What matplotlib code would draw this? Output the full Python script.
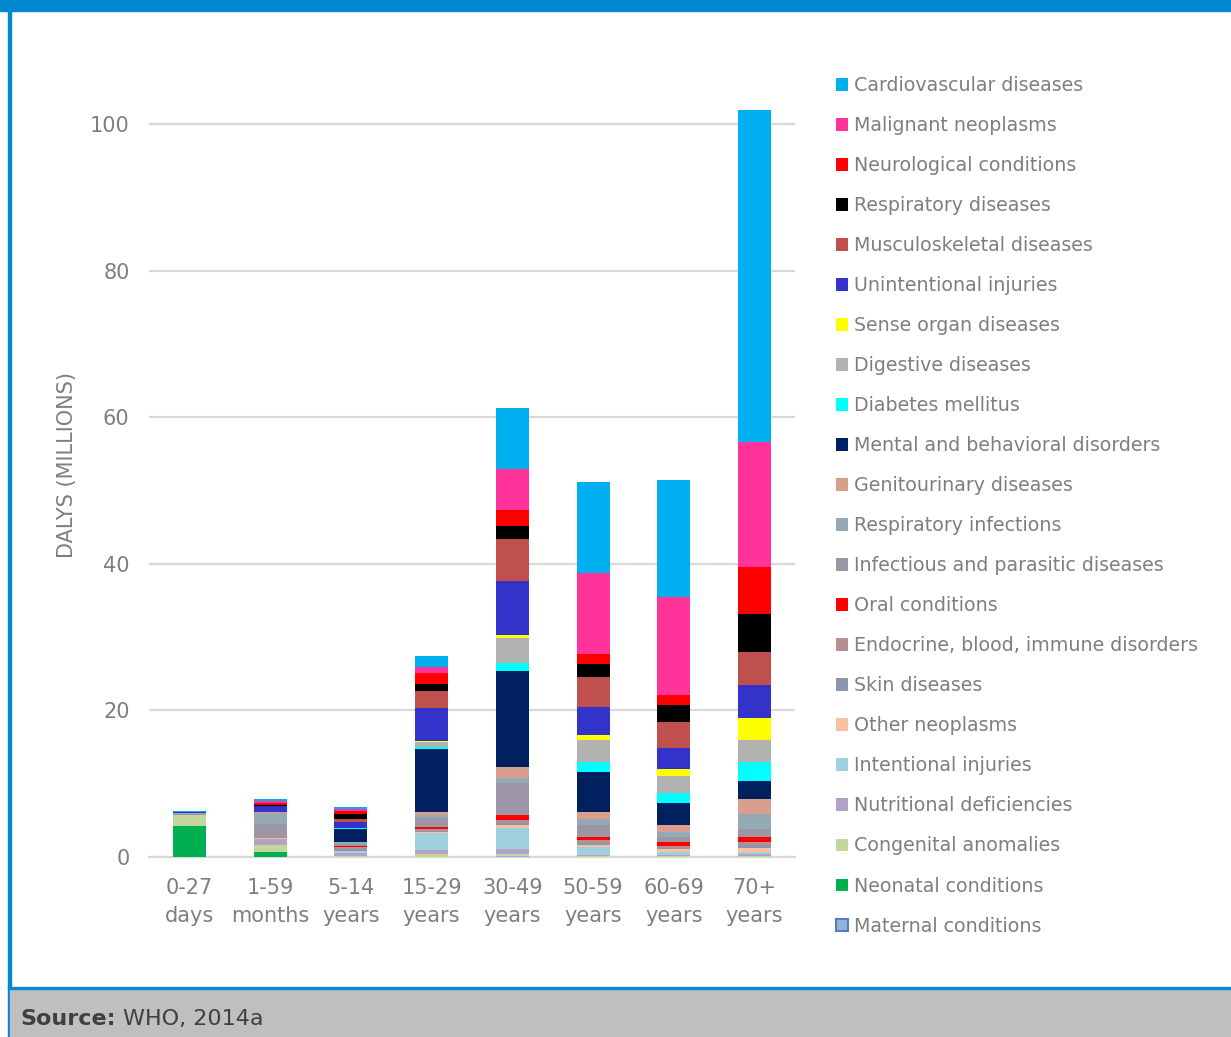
import matplotlib
matplotlib.use("Agg")
import matplotlib.pyplot as plt
from matplotlib.patches import Rectangle, Patch
import numpy as np

plt.rcParams['font.family'] = ['DejaVu Sans']

age_groups = ["0-27\ndays", "1-59\nmonths", "5-14\nyears", "15-29\nyears",
              "30-49\nyears", "50-59\nyears", "60-69\nyears", "70+\nyears"]

# Stacking order: bottom -> top (legend lists top -> bottom)
causes = ["Maternal conditions", "Neonatal conditions", "Congenital anomalies",
          "Nutritional deficiencies", "Intentional injuries", "Other neoplasms",
          "Skin diseases", "Endocrine, blood, immune disorders", "Oral conditions",
          "Infectious and parasitic diseases", "Respiratory infections",
          "Genitourinary diseases", "Mental and behavioral disorders",
          "Diabetes mellitus", "Digestive diseases", "Sense organ diseases",
          "Unintentional injuries", "Musculoskeletal diseases",
          "Respiratory diseases", "Neurological conditions",
          "Malignant neoplasms", "Cardiovascular diseases"]

# values in millions of DALYs, per age group (same order as age_groups)
maternal      = [0.0, 0.0, 0.0, 0.05, 0.1, 0.03, 0.02, 0.02]
neonatal      = [4.2, 0.7, 0.0, 0.0, 0.0, 0.0, 0.0, 0.0]
congenital    = [1.5, 1.0, 0.18, 0.35, 0.3, 0.1, 0.05, 0.05]
nutritional   = [0.0, 0.75, 0.35, 0.6, 0.7, 0.15, 0.15, 0.3]
intentional   = [0.0, 0.05, 0.3, 2.3, 2.9, 1.1, 0.5, 0.3]
other_neo     = [0.0, 0.1, 0.05, 0.1, 0.3, 0.25, 0.35, 0.55]
skin          = [0.0, 0.15, 0.2, 0.2, 0.35, 0.3, 0.2, 0.35]
endocrine     = [0.0, 0.3, 0.25, 0.2, 0.4, 0.35, 0.28, 0.5]
oral          = [0.0, 0.0, 0.18, 0.3, 0.65, 0.47, 0.45, 0.7]
infectious    = [0.18, 1.45, 0.3, 1.2, 4.4, 1.63, 0.77, 1.1]
resp_inf      = [0.18, 1.5, 0.3, 0.4, 0.7, 0.8, 0.64, 2.0]
genito        = [0.0, 0.15, 0.0, 0.4, 1.5, 0.9, 0.96, 2.0]
mental        = [0.0, 0.0, 1.77, 8.7, 13.1, 5.5, 3.0, 2.45]
diabetes      = [0.0, 0.0, 0.03, 0.15, 1.0, 1.4, 1.3, 2.7]
digestive     = [0.0, 0.0, 0.08, 0.75, 3.5, 3.0, 2.4, 2.9]
sense         = [0.0, 0.0, 0.03, 0.1, 0.4, 0.6, 0.9, 3.1]
unintentional = [0.1, 0.8, 0.8, 4.5, 7.4, 3.9, 2.9, 4.4]
musculo       = [0.0, 0.0, 0.4, 2.3, 5.7, 4.1, 3.5, 4.5]
respiratory   = [0.0, 0.14, 0.68, 1.0, 1.8, 1.8, 2.3, 5.2]
neuro         = [0.0, 0.27, 0.4, 1.5, 2.1, 1.3, 1.4, 6.5]
malignant     = [0.0, 0.27, 0.27, 0.8, 5.6, 11.0, 13.4, 17.0]
cardio        = [0.1, 0.27, 0.27, 1.5, 8.35, 12.5, 15.9, 45.3]

series = [maternal, neonatal, congenital, nutritional, intentional, other_neo,
          skin, endocrine, oral, infectious, resp_inf, genito, mental, diabetes,
          digestive, sense, unintentional, musculo, respiratory, neuro,
          malignant, cardio]

colors = ["#95B3D7", "#00B050", "#C3D69B", "#B3A2C7", "#A0D0E0", "#FAC09F",
          "#8C96AC", "#B59090", "#FF0000", "#9B95A5", "#93AAB4", "#DA9E8C",
          "#002060", "#00FFFF", "#B2B2B2", "#FFFF00", "#3333CC", "#C0504D",
          "#000000", "#FF0000", "#FF3399", "#00B0F0"]

W, H = 1231, 1037
fig = plt.figure(figsize=(W / 100, H / 100), dpi=100)

# frame decorations
blue = "#0089D0"
fig.patches.append(Rectangle((0, 1 - 11 / H), 1, 11 / H, transform=fig.transFigure,
                             color=blue, zorder=0))
fig.patches.append(Rectangle((8 / W, 0), 2.5 / W, 1, transform=fig.transFigure,
                             color=blue, zorder=0))
fig.patches.append(Rectangle((10 / W, 0), 1 - 10 / W, (1037 - 989) / H,
                             transform=fig.transFigure, color="#BFBFBF", zorder=0))
fig.patches.append(Rectangle((8 / W, (1037 - 989) / H), 1, 2.5 / H,
                             transform=fig.transFigure, color=blue, zorder=0))

# axes: x from 149 to 795 px; y: 0 at 857 px, 100 at 124 px
ppu = (857 - 124) / 100.0
ytop = 104
ax = fig.add_axes([149 / W, (H - 857) / H, (795 - 149) / W, ytop * ppu / H])
ax.set_xlim(-0.5, 7.5)
ax.set_ylim(0, ytop)

x = np.arange(len(age_groups))
bottom = np.zeros(len(age_groups))
for name, vals, col in zip(causes, series, colors):
    vals = np.array(vals, dtype=float)
    ax.bar(x, vals, 0.41, bottom=bottom, color=col, linewidth=0,
           label=name, zorder=3)
    bottom += vals

ax.set_yticks([0, 20, 40, 60, 80, 100])
ax.yaxis.grid(True, color="#D9D9D9", linewidth=1.6, zorder=0)
ax.set_axisbelow(True)
for s in ["top", "right", "left"]:
    ax.spines[s].set_visible(False)
ax.spines["bottom"].set_color("#D9D9D9")
ax.spines["bottom"].set_linewidth(1.6)
ax.tick_params(axis="both", length=0, colors="#7F7F7F", labelsize=15)
ax.tick_params(axis="y", pad=14)
ax.tick_params(axis="x", pad=15)
ax.set_xticks(x)
ax.set_xticklabels(age_groups, linespacing=1.5)
ax.set_ylabel("DALYS (MILLIONS)", color="#7F7F7F", fontsize=15)
ax.yaxis.set_label_coords(-0.111, (857 - 465) / (ytop * ppu))

# legend (top -> bottom reversed from stacking)
leg_handles = []
for name, col in zip(causes[::-1], colors[::-1]):
    if name == "Maternal conditions":
        leg_handles.append(Patch(facecolor=col, edgecolor="#4F81BD", linewidth=1.5))
    else:
        leg_handles.append(Patch(facecolor=col, edgecolor="none"))
leg = fig.legend(leg_handles, causes[::-1], loc="upper left",
                 bbox_to_anchor=(836 / W, 1 - 76 / H), frameon=False,
                 fontsize=13.7, handlelength=0.64, handleheight=0.64,
                 handletextpad=0.3, labelspacing=1.105, borderaxespad=0,
                 borderpad=0)
for t in leg.get_texts():
    t.set_color("#7F7F7F")

fig.text(20 / W, (1037 - 1025) / H, "Source:", fontsize=16, fontweight="bold",
         color="#404040", ha="left", va="baseline")
fig.text(123 / W, (1037 - 1025) / H, "WHO, 2014a", fontsize=16,
         color="#404040", ha="left", va="baseline")

fig.savefig("out.png", dpi=100)
